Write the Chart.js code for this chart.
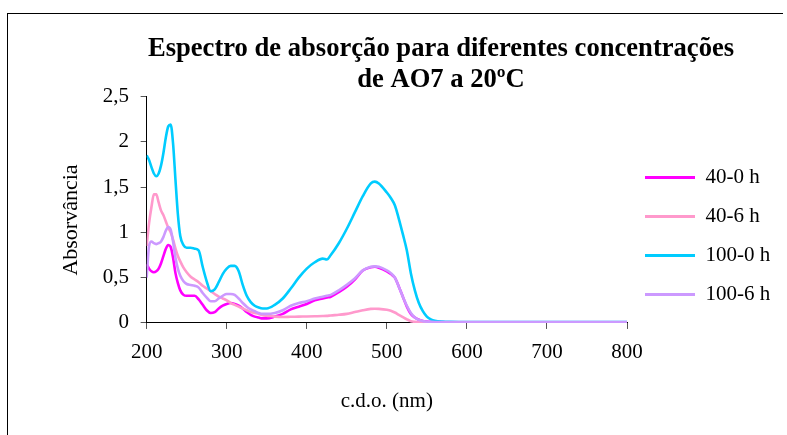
<!DOCTYPE html>
<html lang="pt">
<head>
<meta charset="utf-8">
<title>Espectro de absorção do AO7</title>
<script src="https://cdn.jsdelivr.net/npm/chart.js@4.4.1/dist/chart.umd.min.js"></script>
<style>
  html, body { margin: 0; padding: 0; background: #fff; }
  #wrap { position: relative; width: 787px; height: 435px; overflow: hidden; }
  #frame { position: absolute; left: 7px; top: 13px; width: 776px; height: 440px;
           border-left: 1px solid #000; border-top: 1px solid #000; box-sizing: border-box; }
  #box { position: absolute; left: 0; top: 0; width: 787px; height: 435px; }
</style>
</head>
<body>
<div id="wrap">
  <div id="frame"></div>
  <div id="box"><canvas id="chart"></canvas></div>
</div>
<script>
// Wavelengths (nm) at which the absorbance was sampled
const wavelengths = [200,203,206,209,212,215,218,221,224,227,230,233,236,239,242,246,250,255,260,265,
  270,275,280,285,290,295,300,305,310,315,320,325,330,335,340,345,350,360,370,380,390,400,410,420,425,
  430,440,450,460,470,480,485,490,500,505,510,515,520,525,530,535,540,545,550,555,560,570,580,600,650,
  700,750,800];

// Absorbance of each sample
const abs40h0 = [0.65,0.60,0.57,0.56,0.57,0.60,0.66,0.74,0.82,0.86,0.84,0.72,0.55,0.44,0.36,0.31,0.30,0.30,0.30,0.26,
  0.20,0.14,0.11,0.12,0.16,0.19,0.21,0.22,0.21,0.19,0.16,0.12,0.09,0.07,0.06,0.05,0.05,0.07,0.10,0.15,0.18,0.21,0.25,0.27,0.28,
  0.29,0.34,0.40,0.48,0.58,0.615,0.62,0.61,0.57,0.54,0.50,0.40,0.29,0.18,0.10,0.06,0.035,0.02,0.015,0.012,0.01,0.008,0.006,0.005,0.005,
  0.005,0.005,0.005];
const abs40h6 = [0.85,1.10,1.28,1.42,1.42,1.33,1.24,1.19,1.12,1.05,1.00,0.92,0.82,0.74,0.68,0.61,0.56,0.51,0.48,0.45,
  0.41,0.38,0.35,0.32,0.29,0.27,0.25,0.22,0.20,0.18,0.16,0.14,0.12,0.11,0.10,0.085,0.08,0.07,0.066,0.068,0.07,0.072,0.074,0.076,0.078,
  0.083,0.09,0.10,0.12,0.14,0.155,0.157,0.155,0.145,0.135,0.115,0.09,0.065,0.04,0.02,0.012,0.008,0.006,0.005,0.005,0.005,0.005,0.005,0.005,0.005,
  0.005,0.005,0.005];
const abs100h0 = [1.85,1.80,1.72,1.65,1.62,1.65,1.74,1.88,2.05,2.17,2.19,1.98,1.58,1.20,0.96,0.86,0.83,0.83,0.82,0.80,
  0.62,0.46,0.35,0.37,0.45,0.54,0.60,0.63,0.63,0.57,0.42,0.30,0.23,0.19,0.17,0.16,0.16,0.20,0.27,0.38,0.50,0.60,0.67,0.71,0.70,
  0.75,0.88,1.04,1.22,1.40,1.54,1.56,1.54,1.44,1.38,1.30,1.15,0.98,0.80,0.55,0.36,0.22,0.13,0.07,0.04,0.025,0.015,0.012,0.01,0.01,
  0.01,0.01,0.01];
const abs100h6 = [0.50,0.85,0.90,0.88,0.87,0.88,0.90,0.95,1.02,1.06,1.03,0.90,0.72,0.60,0.52,0.46,0.43,0.42,0.41,0.39,
  0.33,0.28,0.24,0.24,0.27,0.30,0.32,0.32,0.31,0.27,0.22,0.18,0.15,0.13,0.11,0.10,0.10,0.11,0.14,0.19,0.22,0.24,0.27,0.29,0.30,
  0.31,0.36,0.42,0.49,0.58,0.62,0.625,0.62,0.58,0.55,0.50,0.40,0.29,0.19,0.11,0.06,0.035,0.02,0.015,0.012,0.01,0.01,0.01,0.01,0.01,
  0.01,0.01,0.01];

const seriesNames = ['40-0 h', '40-6 h', '100-0 h', '100-6 h'];
const seriesColors = ['#FF00FF', '#FF99CC', '#00CCFF', '#CC99FF'];
const yTickLabels = ['0', '0,5', '1', '1,5', '2', '2,5'];
const titleLines = ['Espectro de absorção para diferentes concentrações', 'de AO7 a 20ºC'];
const xAxisTitle = 'c.d.o. (nm)';
const yAxisTitle = 'Absorvância';

const FONT = '"Liberation Serif", "Times New Roman", serif';

const seriesValues = [abs40h0, abs40h6, abs100h0, abs100h6];
const datasets = seriesValues.map((vals, i) => ({
  label: seriesNames[i],
  data: wavelengths.map((w, k) => ({ x: w, y: vals[k] })),
  borderColor: seriesColors[i],
  backgroundColor: seriesColors[i],
  borderWidth: 2.6,
  pointRadius: 0,
  cubicInterpolationMode: 'monotone',
  fill: false,
  order: seriesValues.length - i   // later series painted on top
}));

// Two-line bold heading over the plot + legend block, and the rotated y-axis caption
const headingPlugin = {
  id: 'heading',
  afterDraw(chart) {
    const ctx = chart.ctx;
    ctx.save();
    ctx.fillStyle = '#000';
    ctx.textAlign = 'center';
    ctx.font = 'bold 26.6px ' + FONT;
    ctx.textBaseline = 'alphabetic';
    ctx.fillText(titleLines[0], 441, 56);
    ctx.fillText(titleLines[1], 441, 87);

    ctx.font = '22px ' + FONT;
    ctx.textBaseline = 'middle';
    ctx.translate(71, 220);
    ctx.rotate(-Math.PI / 2);
    ctx.fillText(yAxisTitle, 0, 0);
    ctx.restore();
  }
};

new Chart(document.getElementById('chart'), {
  type: 'line',
  data: { datasets },
  plugins: [headingPlugin],
  options: {
    responsive: true,
    maintainAspectRatio: false,
    animation: false,
    events: [],
    layout: { padding: { top: 96.5, left: 91, right: 6.75, bottom: 0 } },
    plugins: {
      title: { display: false },
      tooltip: { enabled: false },
      legend: {
        position: 'right',
        align: 'end',
        fullSize: false,
        labels: {
          boxWidth: 50,
          boxHeight: 3,
          padding: 18,
          color: '#000',
          font: { family: FONT, size: 21, lineHeight: 1.0 },
          generateLabels(chart) {
            return chart.data.datasets.map((ds, i) => ({
              text: ds.label,
              fillStyle: ds.borderColor,
              strokeStyle: ds.borderColor,
              lineWidth: 0,
              hidden: false,
              datasetIndex: i,
              fontColor: '#000'
            }));
          }
        }
      }
    },
    scales: {
      x: {
        type: 'linear',
        min: 200,
        max: 800,
        grid: { display: true, drawOnChartArea: false, drawTicks: true, tickLength: 6, color: '#555' },
        border: { display: true, color: '#000', width: 1 },
        ticks: { stepSize: 100, padding: 10.7, color: '#000', font: { family: FONT, size: 21 }, maxRotation: 0 },
        title: { display: true, text: xAxisTitle, color: '#000', font: { family: FONT, size: 21, lineHeight: 1.15 },
                 padding: { top: 14.3, bottom: 21 } }
      },
      y: {
        min: 0,
        max: 2.5,
        grid: { display: true, drawOnChartArea: false, drawTicks: true, tickLength: 6, color: '#555' },
        border: { display: true, color: '#000', width: 1 },
        ticks: {
          stepSize: 0.5,
          padding: 11.7,
          color: '#000',
          font: { family: FONT, size: 21 },
          callback: (v, i) => yTickLabels[i]
        },
        title: { display: false }
      }
    }
  }
});
</script>
</body>
</html>
